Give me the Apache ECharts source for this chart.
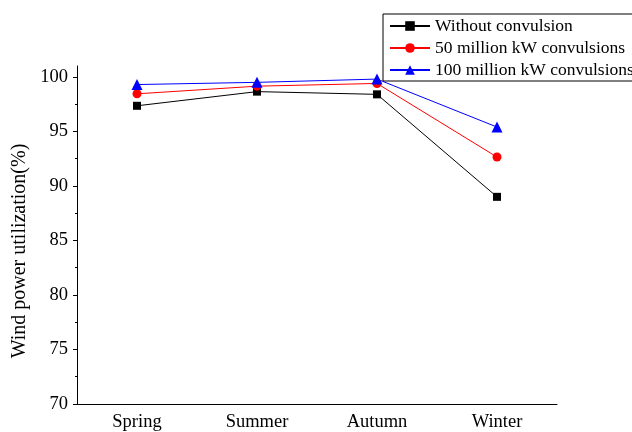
<!DOCTYPE html>
<html>
<head>
<meta charset="utf-8">
<script src="https://cdn.jsdelivr.net/npm/echarts@6/dist/echarts.min.js"></script>
<style>html,body{margin:0;padding:0;background:#fff}#c{width:632px;height:432px}</style>
</head>
<body>
<div id="c"></div>
<script>
const categories = ['Spring', 'Summer', 'Autumn', 'Winter'];
const withoutConvulsion = [97.35, 98.65, 98.4, 89.0];
const convulsion50 = [98.45, 99.15, 99.4, 92.65];
const convulsion100 = [99.3, 99.5, 99.8, 95.4];
const seriesNames = ['Without convulsion', '50 million kW convulsions', '100 million kW convulsions'];
const yMajorTicks = [70, 75, 80, 85, 90, 95, 100];
const yMinorTicks = [72.5, 77.5, 82.5, 87.5, 92.5, 97.5];

const FONT = 'Liberation Serif, Times New Roman, serif';
const gridRect = { left: 77, right: 75, top: 66, bottom: 28 };
const chart = echarts.init(document.getElementById('c'));
chart.setOption({
  animation: false,
  backgroundColor: '#fff',
  grid: [Object.assign({}, gridRect), Object.assign({}, gridRect)],
  legend: {
    orient: 'vertical',
    left: 383, top: 14,
    padding: [3, 6, 2, 6],
    itemWidth: 40, itemHeight: 12, itemGap: 4,
    borderColor: '#000', borderWidth: 1,
    backgroundColor: '#fff',
    textStyle: { fontFamily: FONT, fontSize: 17.5, color: '#000', lineHeight: 18 },
    data: seriesNames
  },
  xAxis: [
    {
      type: 'category', gridIndex: 0, data: categories, boundaryGap: true,
      axisLine: { lineStyle: { color: '#000', width: 1 } },
      axisTick: { inside: true, length: 3, lineStyle: { color: '#000' } },
      axisLabel: { fontFamily: FONT, fontSize: 18.5, color: '#000', margin: 9 },
      splitLine: { show: false }
    },
    {
      type: 'category', gridIndex: 1, data: categories, boundaryGap: true,
      axisLine: { show: false },
      axisTick: { alignWithLabel: true, length: 5, lineStyle: { color: '#000' } },
      axisLabel: { show: false },
      splitLine: { show: false }
    }
  ],
  yAxis: [
    {
      type: 'value', gridIndex: 0, min: 70, max: 101,
      name: 'Wind power utilization(%)', nameLocation: 'middle', nameGap: 47,
      nameTextStyle: { fontFamily: FONT, fontSize: 20, color: '#000', padding: [0, 32, 0, 0] },
      axisLine: { show: true, lineStyle: { color: '#000', width: 1 } },
      axisTick: { show: true, length: 4, customValues: yMajorTicks, lineStyle: { color: '#000' } },
      axisLabel: { fontFamily: FONT, fontSize: 18.5, color: '#000', margin: 9, customValues: yMajorTicks },
      splitLine: { show: false }
    },
    {
      type: 'value', gridIndex: 1, min: 70, max: 101,
      axisLine: { show: false },
      axisTick: { show: true, length: 2, customValues: yMinorTicks, lineStyle: { color: '#000' } },
      axisLabel: { show: false },
      splitLine: { show: false }
    }
  ],
  series: [
    {
      name: seriesNames[0], type: 'line', data: withoutConvulsion,
      xAxisIndex: 0, yAxisIndex: 0,
      symbol: 'rect', symbolSize: 8,
      itemStyle: { color: '#000' }, lineStyle: { color: '#000', width: 1 }
    },
    {
      name: seriesNames[1], type: 'line', data: convulsion50,
      xAxisIndex: 0, yAxisIndex: 0,
      symbol: 'circle', symbolSize: 9,
      itemStyle: { color: '#ff0000' }, lineStyle: { color: '#ff0000', width: 1 }
    },
    {
      name: seriesNames[2], type: 'line', data: convulsion100,
      xAxisIndex: 0, yAxisIndex: 0,
      symbol: 'triangle', symbolSize: 11,
      itemStyle: { color: '#0000ff' }, lineStyle: { color: '#0000ff', width: 1 }
    }
  ]
});
</script>
</body>
</html>
